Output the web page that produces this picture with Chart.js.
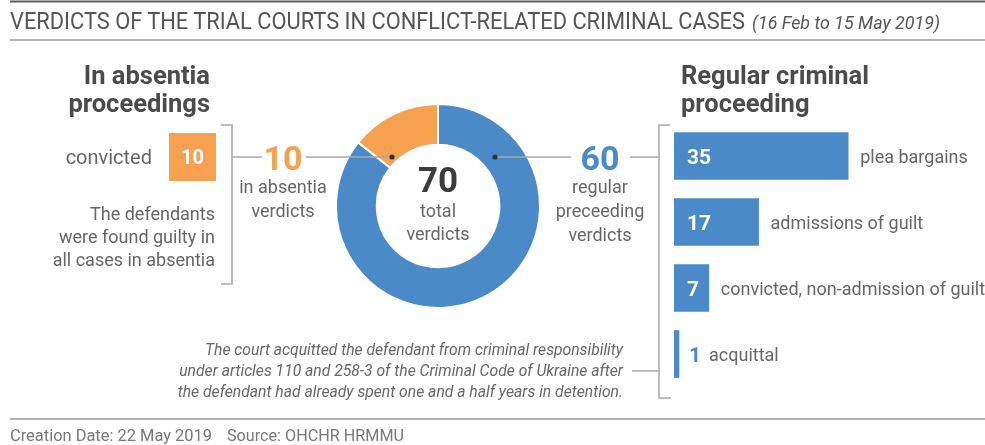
<!DOCTYPE html>
<html>
<head>
<meta charset="utf-8">
<script src="https://cdn.jsdelivr.net/npm/chart.js@4.4.1/dist/chart.umd.min.js"></script>
<style>
  html, body { margin: 0; padding: 0; background: #fff; }
  #wrap { position: relative; width: 985px; height: 445px; overflow: hidden; background: #fff; font-family: Roboto, "Noto Sans", sans-serif; }
  canvas { position: absolute; }
  #donut { left: 335px; top: 103px; }
  #bars { left: 674px; top: 123px; }
  #absentia { left: 169px; top: 133px; }
  svg { position: absolute; left: 0; top: 0; pointer-events: none; }
  svg text { font-family: Roboto, "Noto Sans", sans-serif; }
</style>
</head>
<body>
<div id="wrap">
  <canvas id="donut" width="206" height="206"></canvas>
  <canvas id="bars" width="311" height="264"></canvas>
  <canvas id="absentia" width="47" height="48"></canvas>
  <svg id="ov" width="985" height="445" xmlns="http://www.w3.org/2000/svg"></svg>
</div>
<script>
// ---- data ----
const donutLabels = ['regular proceeding verdicts', 'in absentia verdicts'];
const donutValues = [60, 10];
const absentiaCategories = ['convicted'];
const absentiaValues = [10];
const barCategories = ['plea bargains', 'admissions of guilt', 'convicted, non-admission of guilt', 'acquittal'];
const barValues = [35, 17, 7, 1];

const BLUE = '#4a8ac9';
const ORANGE = '#f6a14f';
const TXT = '#666666';
const HEAD = '#4b4b4b';
const RULE = '#a8a8a8';

const svg = document.getElementById('ov');
const NS = 'http://www.w3.org/2000/svg';
function txt(s, x, y, o = {}) {
  const t = document.createElementNS(NS, 'text');
  t.setAttribute('x', x); t.setAttribute('y', y);
  t.setAttribute('font-size', o.size || 18);
  t.setAttribute('fill', o.color || TXT);
  if (o.bold) t.setAttribute('font-weight', 'bold');
  if (o.italic) t.setAttribute('font-style', 'italic');
  if (o.anchor) t.setAttribute('text-anchor', o.anchor);
  if (o.len) { t.setAttribute('textLength', o.len); t.setAttribute('lengthAdjust', 'spacingAndGlyphs'); }
  t.textContent = s;
  svg.appendChild(t);
  return t;
}
function path(d, o = {}) {
  const p = document.createElementNS(NS, 'path');
  p.setAttribute('d', d);
  p.setAttribute('stroke', o.color || RULE);
  p.setAttribute('stroke-width', o.w || 1.5);
  p.setAttribute('fill', 'none');
  svg.appendChild(p);
}
function dot(x, y) {
  const c = document.createElementNS(NS, 'circle');
  c.setAttribute('cx', x); c.setAttribute('cy', y); c.setAttribute('r', 2.6);
  c.setAttribute('fill', '#333');
  svg.appendChild(c);
}

const common = {
  responsive: false, animation: false, events: [],
  plugins: { legend: { display: false }, tooltip: { enabled: false } },
  layout: { padding: 0 }
};

// ---- doughnut ----
const donut = new Chart(document.getElementById('donut'), {
  type: 'doughnut',
  data: { labels: donutLabels, datasets: [{ data: donutValues, backgroundColor: [BLUE, ORANGE], borderColor: '#fff', borderWidth: 2, hoverOffset: 0 }] },
  options: Object.assign({}, common, { cutout: '60%' })
});

// ---- regular proceeding bars ----
const bars = new Chart(document.getElementById('bars'), {
  type: 'bar',
  data: { labels: barCategories, datasets: [{ data: barValues, backgroundColor: BLUE, barThickness: 47, borderWidth: 0 }] },
  options: Object.assign({}, common, {
    indexAxis: 'y',
    scales: { x: { display: false, min: 0, max: 62.5 }, y: { display: false } }
  })
});

// ---- in absentia box ----
const abs = new Chart(document.getElementById('absentia'), {
  type: 'bar',
  data: { labels: absentiaCategories, datasets: [{ data: absentiaValues, backgroundColor: ORANGE, barPercentage: 1, categoryPercentage: 1, borderWidth: 0 }] },
  options: Object.assign({}, common, {
    indexAxis: 'y',
    scales: { x: { display: false, min: 0, max: 10 }, y: { display: false } }
  })
});

// ---- rules & title ----
path('M10,1.5 H985', { color: '#5a5a5a', w: 2 });
path('M10,40 H985', { color: '#b0b0b0', w: 2 });
path('M10,419 H985', { color: '#9a9a9a', w: 1.5 });
txt('VERDICTS OF THE TRIAL COURTS IN CONFLICT-RELATED CRIMINAL CASES', 10, 29, { size: 24, color: '#555', len: 735 });
txt('(16 Feb to 15 May 2019)', 752, 29, { size: 19, color: '#555', italic: true, len: 188 });
txt('Creation Date: 22 May 2019', 10, 441, { size: 16.5, color: '#777', len: 202 });
txt('Source: OHCHR HRMMU', 227, 441, { size: 16.5, color: '#777', len: 177 });

// ---- headings ----
txt('In absentia', 210, 84, { size: 25.5, bold: true, color: HEAD, anchor: 'end' });
txt('proceedings', 210, 112, { size: 25.5, bold: true, color: HEAD, anchor: 'end' });
txt('Regular criminal', 681, 84, { size: 25.5, bold: true, color: HEAD });
txt('proceeding', 681, 112, { size: 25.5, bold: true, color: HEAD });

// ---- connectors ----
path('M221,125 H232 V284 H221');
path('M232,157 H262');
path('M306,157 H392');
path('M495,157 H571');
path('M630,157 H659');
path('M670,125 H659 V398 H671');
path('M632,371 H659');
dot(392, 157); dot(495, 157);

// ---- doughnut labels (values from data) ----
const total = donutValues.reduce((a, b) => a + b, 0);
txt(String(total), 438, 192, { size: 35, bold: true, color: '#3c3c3c', anchor: 'middle' });
txt('total', 438, 217, { size: 18, anchor: 'middle' });
txt('verdicts', 438, 240, { size: 18, anchor: 'middle' });
txt(String(donutValues[1]), 283, 170, { size: 34, bold: true, color: ORANGE, anchor: 'middle' });
txt('in absentia', 283, 193, { size: 18, anchor: 'middle' });
txt('verdicts', 283, 217, { size: 18, anchor: 'middle' });
txt(String(donutValues[0]), 600, 170, { size: 34, bold: true, color: BLUE, anchor: 'middle' });
txt('regular', 600, 193, { size: 18, anchor: 'middle' });
txt('preceeding', 600, 217, { size: 18, anchor: 'middle' });
txt('verdicts', 600, 241, { size: 18, anchor: 'middle' });

// ---- absentia box labels ----
{
  const el = abs.getDatasetMeta(0).data[0];
  const ox = 169, oy = 133;
  const cx = ox + (el.x + el.base) / 2, cy = oy + el.y;
  txt(String(absentiaValues[0]), cx, cy + 7, { size: 20, bold: true, color: '#fff', anchor: 'middle' });
  txt(absentiaCategories[0], ox + el.base - 17, cy + 7, { size: 20, anchor: 'end' });
}
txt('The defendants', 215, 220, { size: 18, anchor: 'end' });
txt('were found guilty in', 215, 243, { size: 18, anchor: 'end' });
txt('all cases in absentia', 215, 266, { size: 18, anchor: 'end' });

// ---- bar labels ----
bars.getDatasetMeta(0).data.forEach((el, i) => {
  const ox = 674, oy = 123;
  const x0 = ox + el.base, x1 = ox + el.x, cy = oy + el.y;
  if (x1 - x0 > 25) {
    txt(String(barValues[i]), x0 + 13, cy + 8, { size: 21, bold: true, color: '#fff' });
    txt(barCategories[i], x1 + 12, cy + 7, { size: 18 });
  } else {
    const n = txt(String(barValues[i]), x1 + 10, cy + 8, { size: 21, bold: true, color: BLUE });
    const w = n.getComputedTextLength();
    txt(barCategories[i], x1 + 10 + w + 8, cy + 7, { size: 18 });
  }
});

// ---- footnote ----
txt('The court acquitted the defendant from criminal responsibility', 623, 355, { size: 15.7, italic: true, anchor: 'end' });
txt('under articles 110 and 258-3 of the Criminal Code of Ukraine after', 623, 376, { size: 15.7, italic: true, anchor: 'end' });
txt('the defendant had already spent one and a half years in detention.', 623, 397, { size: 15.7, italic: true, anchor: 'end' });
</script>
</body>
</html>
